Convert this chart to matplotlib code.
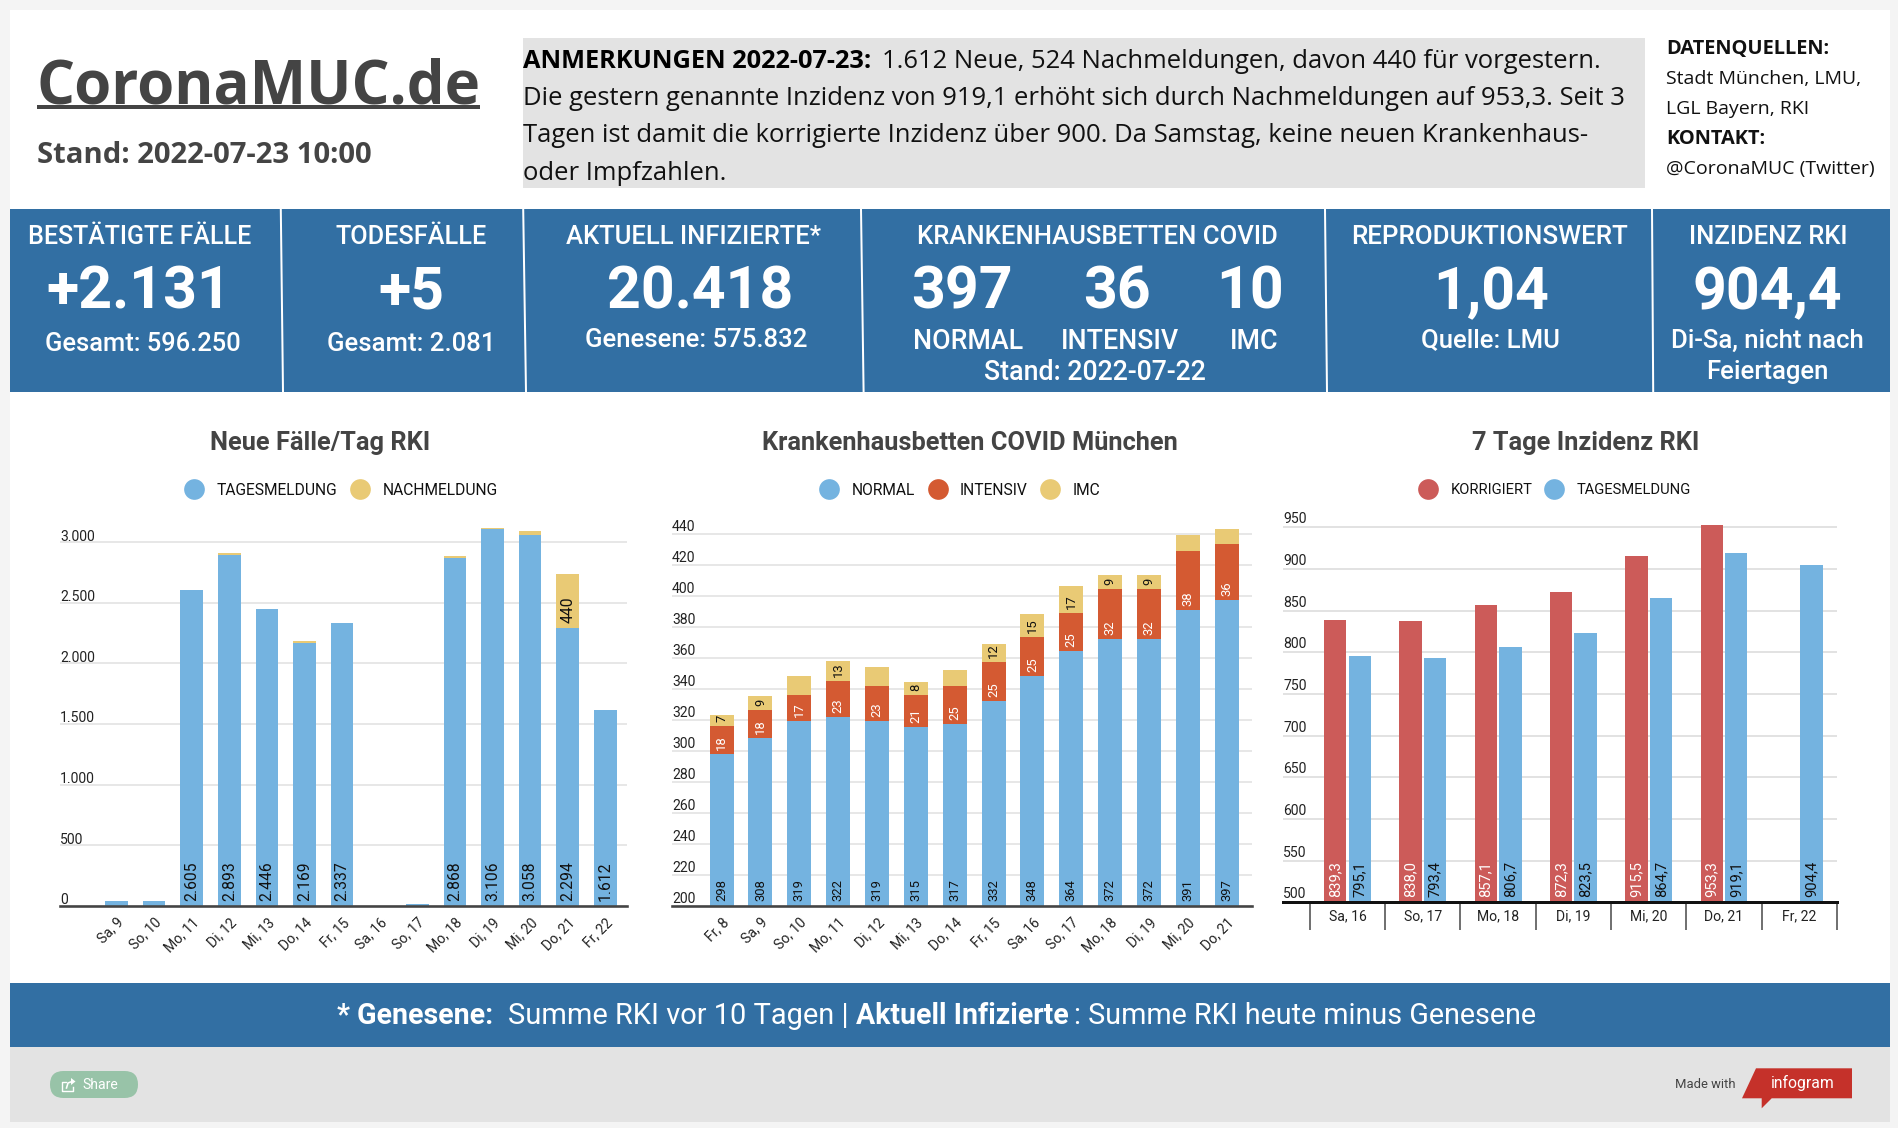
import matplotlib
matplotlib.use("Agg")
import matplotlib.pyplot as plt
from matplotlib.lines import Line2D
from matplotlib.patches import Rectangle, FancyBboxPatch, Polygon
from matplotlib.transforms import ScaledTranslation

# ---------- data ----------
cases_days = ["Sa, 9", "So, 10", "Mo, 11", "Di, 12", "Mi, 13", "Do, 14", "Fr, 15",
              "Sa, 16", "So, 17", "Mo, 18", "Di, 19", "Mi, 20", "Do, 21", "Fr, 22"]
cases_daily = [38, 38, 2605, 2893, 2446, 2169, 2337, 0, 12, 2868, 3106, 3058, 2294, 1612]
cases_late = [0, 0, 0, 15, 0, 15, 0, 0, 0, 21, 14, 36, 440, 0]
cases_daily_shown = [None, None, 2605, 2893, 2446, 2169, 2337, None, None, 2868, 3106, 3058, 2294, 1612]
cases_late_shown = [None] * 12 + [440, None]
cases_ticks = [0, 500, 1000, 1500, 2000, 2500, 3000]

beds_days = ["Fr, 8", "Sa, 9", "So, 10", "Mo, 11", "Di, 12", "Mi, 13", "Do, 14", "Fr, 15",
             "Sa, 16", "So, 17", "Mo, 18", "Di, 19", "Mi, 20", "Do, 21"]
beds_normal = [298, 308, 319, 322, 319, 315, 317, 332, 348, 364, 372, 372, 391, 397]
beds_icu = [18, 18, 17, 23, 23, 21, 25, 25, 25, 25, 32, 32, 38, 36]
beds_imc = [7, 9, 12, 13, 12, 8, 10, 12, 15, 17, 9, 9, 10, 10]
beds_imc_shown = [7, 9, None, 13, None, 8, None, 12, 15, 17, 9, 9, None, None]
beds_ticks = list(range(200, 441, 20))

inc_days = ["Sa, 16", "So, 17", "Mo, 18", "Di, 19", "Mi, 20", "Do, 21", "Fr, 22"]
inc_corrected = [839.3, 838.0, 857.1, 872.3, 915.5, 953.3, None]
inc_daily = [795.1, 793.4, 806.7, 823.5, 864.7, 919.1, 904.4]
inc_ticks = list(range(500, 951, 50))

# ---------- style ----------
W, H = 1898, 1128
BLUE, YELLOW, ORANGE, RED = "#74b3e0", "#e9ca75", "#d45a32", "#cc5b59"
TILE, GREY, INK, GRID = "#326fa3", "#e3e3e3", "#444444", "#e2e2e2"
DARK = "#111111"
def pt(px):
    return px * 0.72

fig = plt.figure(figsize=(W / 100, H / 100), dpi=100, facecolor="#f4f4f4")
bg = fig.add_axes([0, 0, 1, 1])
bg.set_xlim(0, W); bg.set_ylim(H, 0); bg.axis("off")

def rect(x0, y0, x1, y1, color):
    bg.add_patch(Rectangle((x0, y0), x1 - x0, y1 - y0, fc=color, ec="none"))

def txt(x, y, s, px, font="Roboto", weight="normal", color="white", ha="center", va="center"):
    return bg.text(x, y, s, fontsize=pt(px), family=font, fontweight=weight, color=color, ha=ha, va=va)

rect(10, 10, 1890, 983, "white")
rect(523, 38, 1645, 188, GREY)
rect(10, 209, 1890, 392, TILE)
rect(10, 983, 1890, 1047, TILE)
rect(10, 1047, 1890, 1122, GREY)
for x0, x1 in [(280.8, 283), (523.2, 526), (861, 863.6), (1325, 1327), (1652, 1653.2)]:
    bg.plot([x0, x1], [209, 392], color="white", lw=pt(2), solid_capstyle="butt")

# header
OS = "Open Sans"
txt(37, 103, "CoronaMUC.de", 59.9, OS, "bold", INK, "left", "baseline")
rect(37, 105, 480, 109, INK)
txt(37, 163, "Stand: 2022-07-23 10:00", 29.2, OS, "bold", INK, "left", "baseline")
NOTE = 25.6
txt(523, 68, "ANMERKUNGEN 2022-07-23:", 25.4, OS, "bold", "black", "left", "baseline")
txt(882, 68, "1.612 Neue, 524 Nachmeldungen, davon 440 für vorgestern.", NOTE, OS, "normal", DARK, "left", "baseline")
txt(523, 105, "Die gestern genannte Inzidenz von 919,1 erhöht sich durch Nachmeldungen auf 953,3. Seit 3", NOTE, OS, "normal", DARK, "left", "baseline")
txt(523, 142.5, "Tagen ist damit die korrigierte Inzidenz über 900. Da Samstag, keine neuen Krankenhaus-", NOTE, OS, "normal", DARK, "left", "baseline")
txt(523, 180, "oder Impfzahlen.", NOTE, OS, "normal", DARK, "left", "baseline")
for y, s, w, px in [(54, "DATENQUELLEN:", "bold", 20), (84, "Stadt München, LMU,", "normal", 19.5),
                    (114, "LGL Bayern, RKI", "normal", 19.5), (144, "KONTAKT:", "bold", 20),
                    (174, "@CoronaMUC (Twitter)", "normal", 19.5)]:
    txt(1666, y, s, px, OS, w, DARK, "left", "baseline")

# tiles
MED = 500
for x, s, px in [(140, "BESTÄTIGTE FÄLLE", 25), (411, "TODESFÄLLE", 25.2), (694, "AKTUELL INFIZIERTE*", 25.6),
                 (1097, "KRANKENHAUSBETTEN COVID", 25.8), (1490, "REPRODUKTIONSWERT", 26), (1768, "INZIDENZ RKI", 25.6)]:
    txt(x, 237.4, s, px, weight=MED)
for x, s in [(138.5, "+2.131"), (411, "+5"), (700, "20.418"), (962, "397"), (1117, "36"),
             (1250, "10"), (1491, "1,04"), (1767, "904,4")]:
    txt(x, 292.8, s, 59, weight="bold")
for x, y, s, px in [(143, 344.4, "Gesamt: 596.250", 25.5), (411, 344.4, "Gesamt: 2.081", 25.7), (696, 340.4, "Genesene: 575.832", 25.7),
                    (968, 341.4, "NORMAL", 26.7), (1120, 341.4, "INTENSIV", 26.7), (1254, 341.4, "IMC", 26.7),
                    (1095, 372.4, "Stand: 2022-07-22", 26.7), (1490, 340.4, "Quelle: LMU", 25.7),
                    (1767, 340.4, "Di-Sa, nicht nach", 25.7), (1767, 372.4, "Feiertagen", 25.7)]:
    txt(x, y, s, px, weight=MED)

# footer
txt(337, 1016, "* Genesene:", 28.5, weight="bold", ha="left")
txt(508, 1016, "Summe RKI vor 10 Tagen |", 29, ha="left")
txt(856, 1016, "Aktuell Infizierte", 28.5, weight="bold", ha="left")
txt(1074, 1016, ": Summe RKI heute minus Genesene", 28.7, ha="left")
bg.add_patch(FancyBboxPatch((50, 1071), 88, 27, boxstyle="round,pad=0,rounding_size=13.5", fc="#98c3a8", ec="none"))
bg.plot([66, 62.5, 62.5, 73.5, 73.5], [1082, 1082, 1090.5, 1090.5, 1086.5], color="white", lw=pt(1.4))
bg.plot([66.5, 68, 72], [1088, 1083, 1081.5], color="white", lw=pt(1.6))
bg.add_patch(Polygon([(71, 1078), (75.5, 1081.5), (71, 1085)], closed=True, fc="white", ec="none"))
txt(82, 1085, "Share", 14, ha="left")
txt(1675.5, 1084, "Made with", 13, color=INK, ha="left")
bg.add_patch(Polygon([(1756, 1068.3), (1852, 1068.3), (1852, 1098.3), (1771.7, 1098.3), (1761.7, 1108.3),
                      (1761.7, 1098.3), (1742, 1098.3)], closed=True, fc="#c5312a", ec="none"))
txt(1771, 1083, "infogram", 15.8, ha="left")

# ---------- charts ----------
def px_axes(left, top, right, bottom):
    ax = fig.add_axes([left / W, 1 - bottom / H, (right - left) / W, (bottom - top) / H])
    ax.patch.set_alpha(0)
    for name in ("top", "left", "right"):
        ax.spines[name].set_visible(False)
    ax.set_axisbelow(True)
    return ax

def style_y(ax, ticks, labels, px=14, grid=GRID, dy=0.0):
    ax.set_yticks(ticks, labels)
    ax.yaxis.grid(True, color=grid, lw=pt(1.6))
    ax.tick_params(axis="y", length=0, pad=0, labelsize=pt(px), labelcolor="#222222")
    shift = ScaledTranslation(0, pt(dy) / 72, fig.dpi_scale_trans)
    for lab in ax.get_yticklabels():
        lab.set_ha("left"); lab.set_va("bottom"); lab.set_family("Roboto")
        lab.set_transform(lab.get_transform() + shift)

def rotated_x(ax, labels, px=14):
    ax.set_xticks(range(len(labels)), labels)
    ax.tick_params(axis="x", length=0, pad=pt(14.5), labelsize=pt(px), labelcolor="#222222")
    shift = ScaledTranslation(pt(5) / 72, 0, fig.dpi_scale_trans)
    for lab in ax.get_xticklabels():
        lab.set(rotation=45, ha="right", va="center", rotation_mode="anchor", family="Roboto")
        lab.set_transform(lab.get_transform() + shift)

def inner(ax, x, y, s, px, color, off=5):
    ax.annotate(s, (x, y), xytext=(0, pt(off)), textcoords="offset points", rotation=90,
                ha="center", va="bottom", fontsize=pt(px), color=color, family="Roboto")

def legend(ax, items, cx, cy, px=15.6):
    handles = [Line2D([], [], ls="none", marker="o", ms=pt(20.7), mfc=c, mec="none", label=s) for s, c in items]
    ax.legend(handles=handles, loc="center", bbox_to_anchor=(cx / W, 1 - cy / H),
              bbox_transform=fig.transFigure, ncols=len(items), frameon=False, borderpad=0, borderaxespad=0,
              handlelength=1, handletextpad=14.6 / px, columnspacing=14.7 / px,
              prop={"family": "Roboto", "size": pt(px)}, labelcolor="#111111")

def spine(ax, color=INK, px=2.6):
    ax.spines["bottom"].set_color(color)
    ax.spines["bottom"].set_linewidth(pt(px))

def de_int(v):
    return f"{v:,}".replace(",", ".")

LEG_Y, TITLE_Y, TITLE_PX = 490.2, 443.4, 25.4

# chart 1
per = 363.5 / 3000
ax1 = px_axes(60, 905.7 - 3200 * per, 627, 905.7)
ax1.set_ylim(0, 3200)
ax1.set_xlim(-(116.5 - 60) / 37.6, (627 - 116.5) / 37.6)
pos = list(range(len(cases_days)))
ax1.bar(pos, cases_daily, 0.6, color=BLUE)
ax1.bar(pos, cases_late, 0.6, bottom=cases_daily, color=YELLOW)
for i in pos:
    if cases_daily_shown[i] is not None:
        inner(ax1, i, 0, de_int(cases_daily_shown[i]), 15.7, DARK)
    if cases_late_shown[i] is not None:
        inner(ax1, i, cases_daily[i], str(cases_late_shown[i]), 15.7, DARK)
style_y(ax1, cases_ticks, [de_int(t) for t in cases_ticks], dy=-1.5)
rotated_x(ax1, cases_days)
spine(ax1)
legend(ax1, [("TAGESMELDUNG", BLUE), ("NACHMELDUNG", YELLOW)], 342, LEG_Y)
txt(320, TITLE_Y, "Neue Fälle/Tag RKI", TITLE_PX, weight="bold", color=INK)

# chart 2
per = 372.1 / 240
ax2 = px_axes(672, 905.7 - 250 * per, 1252, 905.7)
ax2.set_ylim(200, 450)
ax2.set_xlim(-(721.6 - 672) / 38.85, (1252 - 721.6) / 38.85)
pos = list(range(len(beds_days)))
stack2 = [a + b for a, b in zip(beds_normal, beds_icu)]
ax2.bar(pos, beds_normal, 0.62, color=BLUE)
ax2.bar(pos, beds_icu, 0.62, bottom=beds_normal, color=ORANGE)
ax2.bar(pos, beds_imc, 0.62, bottom=stack2, color=YELLOW)
for i in pos:
    inner(ax2, i, 200, str(beds_normal[i]), 13, DARK)
    inner(ax2, i, beds_normal[i], str(beds_icu[i]), 13, "white", 4)
    if beds_imc_shown[i] is not None:
        inner(ax2, i, stack2[i], str(beds_imc_shown[i]), 13, DARK, 4)
style_y(ax2, beds_ticks, [str(t) for t in beds_ticks], dy=-0.4)
rotated_x(ax2, beds_days)
spine(ax2)
legend(ax2, [("NORMAL", BLUE), ("INTENSIV", ORANGE), ("IMC", YELLOW)], 961, LEG_Y)
txt(969.5, TITLE_Y, "Krankenhausbetten COVID München", TITLE_PX, weight="bold", color=INK)

# chart 3
per = 375.1 / 450
ax3 = px_axes(1283, 902.4 - 460 * per, 1837, 902.4)
ax3.set_ylim(500, 960)
ax3.set_xlim(-(1347.5 - 1283) / 75.3, (1837 - 1347.5) / 75.3)
off, bw = 0.1625, 0.297
for i, (c, d) in enumerate(zip(inc_corrected, inc_daily)):
    if c is not None:
        ax3.bar(i - off, c - 500, bw, bottom=500, color=RED)
        inner(ax3, i - off, 500, f"{c:.1f}".replace(".", ","), 14.7, "white", 5.5)
    ax3.bar(i + off, d - 500, bw, bottom=500, color=BLUE)
    inner(ax3, i + off, 500, f"{d:.1f}".replace(".", ","), 14.7, DARK, 5.5)
style_y(ax3, inc_ticks, [str(t) for t in inc_ticks], grid="#dcdcdc", dy=1)
ax3.set_xticks(range(len(inc_days)), inc_days)
ax3.set_xticks([i - 0.5 for i in range(len(inc_days) + 1)], minor=True)
ax3.tick_params(axis="x", which="major", length=0, pad=pt(7), labelsize=pt(14), labelcolor="#222222")
ax3.tick_params(axis="x", which="minor", length=pt(27.5), width=pt(1.5), color=INK)
for lab in ax3.get_xticklabels():
    lab.set_family("Roboto")
spine(ax3, "#111111", 3)
legend(ax3, [("KORRIGIERT", RED), ("TAGESMELDUNG", BLUE)], 1555.7, LEG_Y, px=14.7)
txt(1585.5, TITLE_Y, "7 Tage Inzidenz RKI", TITLE_PX, weight="bold", color=INK)

fig.savefig("out.png", dpi=100, facecolor=fig.get_facecolor())
